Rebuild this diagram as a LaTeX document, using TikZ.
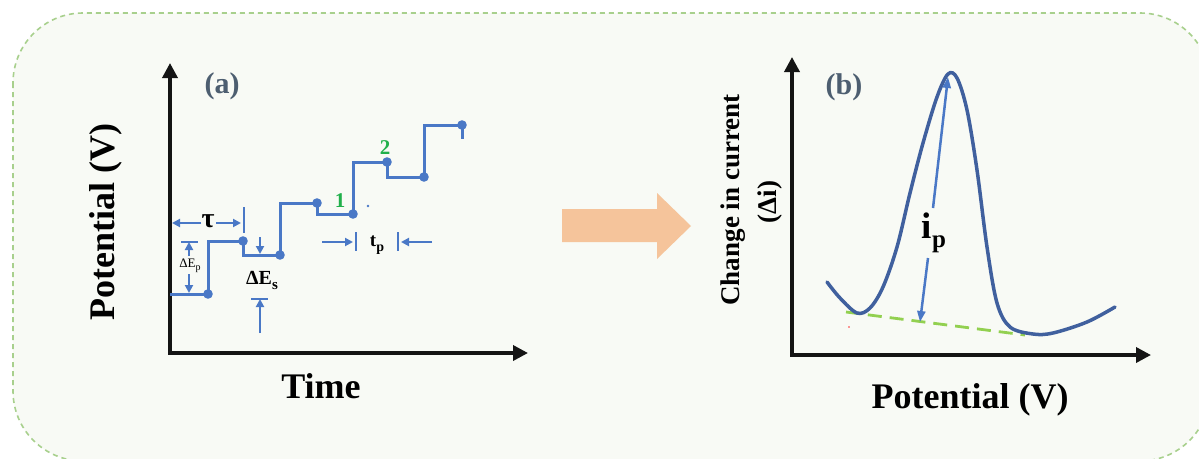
\documentclass[tikz,border=0pt]{standalone}
\usepackage{fontspec}
\setmainfont{Liberation Serif}
\usetikzlibrary{arrows.meta}
\definecolor{stepblue}{HTML}{4A78C6}
\definecolor{curveblue}{HTML}{40609E}
\definecolor{panelbg}{HTML}{F8FAF5}
\definecolor{framegreen}{HTML}{A8D08D}
\definecolor{peach}{HTML}{F5C49B}
\definecolor{labelgray}{HTML}{4D5E70}
\definecolor{stepgreen}{HTML}{21B04B}
\definecolor{basegreen}{HTML}{92D050}
\definecolor{axisblack}{HTML}{141414}
\newcommand{\fs}[1]{\fontsize{#1}{#1}\selectfont}
\begin{document}
\begin{tikzpicture}[x=1pt,y=-1pt,
  axisline/.style={draw=axisblack,line width=3.5pt,
    {Triangle[length=15pt,width=15pt]}-{Triangle[length=15pt,width=15pt]}},
  wave/.style={draw=stepblue,line width=3pt,line join=miter},
  dotmark/.style={fill=stepblue},
  ann/.style={draw=stepblue,line width=2pt},
  annarrow/.style={ann,-{Triangle[length=8pt,width=8pt]}},
  paneltag/.style={text=labelgray,font=\fs{30}\bfseries},
  axislabel/.style={text=black,font=\fs{36}\bfseries},
  greennum/.style={text=stepgreen,font=\fs{21}\bfseries},
  lbl/.style={text=black,inner sep=0pt}]
\useasboundingbox (0,0) rectangle (1199,458);
\fill[white] (0,0) rectangle (1199,458);
% panel frame
\draw[draw=framegreen,fill=panelbg,line width=1.6pt,dash pattern=on 5pt off 4pt,
  rounded corners=70pt] (13,13) rectangle (1210,461);

% ---------- (a) potential staircase ----------
\coordinate (aY) at (170,63);
\coordinate (aO) at (170,353);
\coordinate (aX) at (528,353);
\draw[axisline] (aY) -- (aO) -- (aX);
\node[paneltag] (tagA) at (222,86) {(a)};
\node[axislabel,rotate=90] (ylabA) at (106,222) {Potential (V)};
\node[axislabel] (xlabA) at (321,386) {Time};

\coordinate (w0) at (170,294);
\coordinate (p1) at (208,294);
\coordinate (p2) at (243,241);
\coordinate (p3) at (280,255);
\coordinate (p4) at (317,203);
\coordinate (p5) at (353,214);
\coordinate (p6) at (387,162);
\coordinate (p7) at (424,177);
\coordinate (p8) at (462,125);
\coordinate (wEnd) at (462,139);
\draw[wave] (w0) -- (p1) |- (p2) -- (p2 |- p3) -- (p3) |- (p4) -- (p4 |- p5) -- (p5)
  |- (p6) -- (p6 |- p7) -- (p7) |- (p8) -- (wEnd);
\foreach \p in {p1,p2,p3,p4,p5,p6,p7,p8}
  \fill[dotmark] (\p) circle (4.8pt);
\fill[stepblue] (368,206) circle (1.3pt);

\node[greennum] (n1) at (340,201) {1};
\node[greennum] (n2) at (385,148) {2};

% tau: pulse period
\node[lbl,font=\fs{28}\bfseries] (tau) at (208,221) {τ};
\coordinate (tauL) at (172,223);
\coordinate (tauR) at (241,223);
\draw[annarrow] (201,223) -- (tauL);
\draw[annarrow] (216,223) -- (tauR);
\draw[ann] (244,207) -- (244,233);

% Delta E_p: pulse amplitude
\node[lbl,font=\fs{13}] (dEp) at (190,266) {ΔE\raisebox{-3pt}{\fs{10}p}};
\coordinate (epTop) at (189,242);
\coordinate (epBot) at (189,293);
\draw[ann] (181,242) -- (198,242);
\draw[annarrow] (189,256) -- (epTop);
\draw[annarrow] (189,274) -- (epBot);

% Delta E_s: step height
\node[lbl,font=\fs{20}\bfseries] (dEs) at (262,280) {ΔE\raisebox{-5pt}{\fs{15}s}};
\coordinate (esTop) at (260,254);
\coordinate (esBot) at (260,299);
\draw[annarrow] (260,237) -- (esTop);
\draw[ann] (251,299) -- (268,299);
\draw[annarrow] (260,333) -- (esBot);

% t_p: pulse width
\node[lbl,font=\fs{19}\bfseries] (tp) at (377,245) {t\raisebox{-5pt}{\fs{14}p}};
\coordinate (tpL) at (353,242);
\coordinate (tpR) at (401,242);
\draw[annarrow] (322,242) -- (tpL);
\draw[ann] (356,232) -- (356,251);
\draw[ann] (398,232) -- (398,251);
\draw[annarrow] (432,242) -- (tpR);

% ---------- transition arrow ----------
\fill[peach] (562,209) -- (657,209) -- (657,193) -- (691,226) -- (657,259)
  -- (657,242) -- (562,242) -- cycle;

% ---------- (b) differential pulse voltammogram ----------
\coordinate (bY) at (792,57);
\coordinate (bO) at (792,355);
\coordinate (bX) at (1151,355);
\draw[axisline] (bY) -- (bO) -- (bX);
\node[paneltag] (tagB) at (844,87) {(b)};
\node[lbl,rotate=90,font=\fs{27}\bfseries] (ylabB1) at (733,200) {Change in current};
\node[lbl,rotate=90,font=\fs{27}\bfseries] (ylabB2) at (770,202) {(Δi)};
\node[axislabel] (xlabB) at (970,400) {Potential (V)};

\draw[basegreen,line width=2.8pt,dash pattern=on 14pt off 8pt] (846,312) -- (1025,335);
\draw[curveblue,line width=3.5pt,line cap=round] plot[smooth,tension=0.55] coordinates {
  (827,282) (840,298) (857,313) (870,308) (883,287) (897,247) (910,193) (923,143)
  (937,97) (948,74) (957,78) (967,110) (977,170) (987,247) (997,303) (1010,327)
  (1033,334) (1053,333) (1087,322) (1115,307)};
\fill[red!80] (849,327) circle (0.9pt);

% peak current
\node[lbl] (ip) at (934,233) {\fs{37}\bfseries i\raisebox{-9pt}{\fs{25}p}};
\coordinate (ipTop) at (948,77);
\coordinate (ipBot) at (920,322);
\draw[ann,line width=2.5pt,-{Triangle[length=11pt,width=8pt]}] (933,208) -- (ipTop);
\draw[ann,line width=2.5pt,-{Triangle[length=11pt,width=8pt]}] (928,258) -- (ipBot);
\end{tikzpicture}
\end{document}
